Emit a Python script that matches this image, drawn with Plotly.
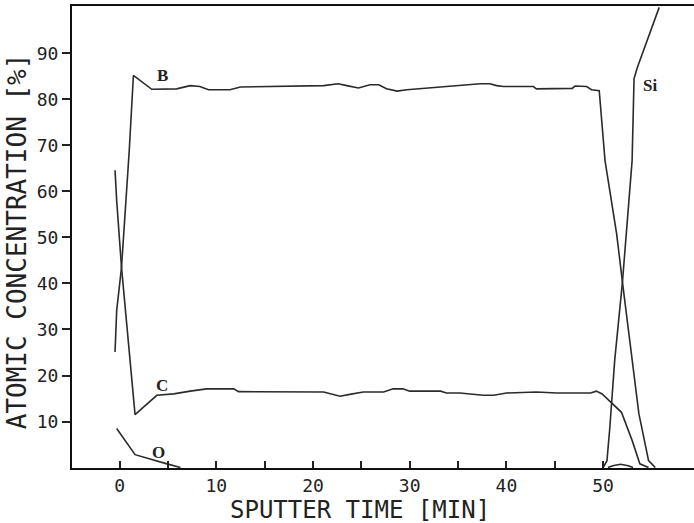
import plotly.graph_objects as go

# ---- data (sputter time [min], atomic concentration [%]) ----
B_time = [-0.47, -0.3, 0.2, 0.57, 1.0, 1.43, 3.33, 5.9, 7.3, 8.3, 9.2, 11.4, 12.5, 21.1, 22.6, 23.5,
          24.7, 25.9, 26.8, 27.6, 28.7, 29.7, 33.5, 37.3, 38.3, 39.0, 39.7, 42.8, 43.1, 46.8, 47.1,
          48.3, 48.8, 49.6, 50.2, 51.4, 52.0, 52.8, 53.7, 54.7, 55.4]
B_conc = [25.1, 34.1, 43.5, 54.4, 68.9, 85.2, 82.2, 82.3, 83.0, 82.8, 82.1, 82.1, 82.7, 83.0, 83.4, 83.0,
          82.5, 83.2, 83.2, 82.3, 81.8, 82.1, 82.8, 83.4, 83.4, 83.0, 82.8, 82.8, 82.3, 82.4, 82.9,
          82.8, 82.1, 81.9, 66.7, 50.8, 40.3, 26.9, 11.7, 1.5, 0.0]

C_time = [-0.47, -0.3, 0.2, 0.74, 1.6, 3.85, 5.6, 7.3, 9.0, 11.8, 12.3, 21.1, 21.8, 22.8, 23.8, 25.2,
          27.3, 28.3, 29.3, 30.0, 33.2, 33.8, 35.2, 37.6, 38.7, 40.0, 43.1, 45.2, 48.7, 49.3, 49.9,
          51.9, 53.0, 53.8, 54.7]
C_conc = [64.6, 58.0, 43.5, 30.5, 11.5, 15.7, 16.0, 16.6, 17.1, 17.1, 16.5, 16.4, 16.0, 15.5, 15.9, 16.4,
          16.4, 17.1, 17.1, 16.6, 16.6, 16.2, 16.2, 15.7, 15.7, 16.2, 16.4, 16.2, 16.2, 16.6, 16.0,
          12.0, 5.9, 0.8, 0.0]

O_time = [-0.3, 1.6, 4.9, 6.3]
O_conc = [8.5, 2.8, 0.8, 0.0]

O_interface_time = [50.5, 51.0, 51.8, 52.6, 53.1]
O_interface_conc = [0.0, 0.4, 0.7, 0.4, 0.0]

Si_time = [50.0, 50.4, 50.7, 51.2, 52.0, 53.0, 53.2, 53.55, 55.8]
Si_conc = [0.0, 1.5, 8.8, 23.3, 40.3, 66.7, 84.5, 87.0, 100.0]

labels = ["B", "C", "O", "Si"]
label_time = [4.4, 4.4, 4.0, 54.9]
label_conc = [85.2, 17.8, 3.3, 83.0]

x_ticks = [0, 5, 10, 15, 20, 25, 30, 35, 40, 45, 50]
x_ticktext = ["0", "", "10", "", "20", "", "30", "", "40", "", "50"]
y_ticks = [10, 20, 30, 40, 50, 60, 70, 80, 90]

LINE = dict(color="#2b2b2b", width=1.6)
MONO = "DejaVu Sans Mono"

fig = go.Figure()
for t, c in [(B_time, B_conc), (C_time, C_conc), (O_time, O_conc),
             (O_interface_time, O_interface_conc), (Si_time, Si_conc)]:
    fig.add_trace(go.Scatter(x=t, y=c, mode="lines", line=LINE, showlegend=False,
                             hoverinfo="x+y"))

for txt, lx, ly in zip(labels, label_time, label_conc):
    fig.add_annotation(x=lx, y=ly, text="<b>%s</b>" % txt, showarrow=False,
                       font=dict(family="Liberation Serif", size=17, color="#222"))

fig.add_annotation(xref="paper", yref="paper", x=0.463, y=-0.0905,
                   xanchor="center", yanchor="middle",
                   text="SPUTTER TIME [MIN]", showarrow=False,
                   font=dict(family=MONO, size=24, color="#222"))
fig.add_annotation(xref="paper", yref="paper", x=-0.089, y=0.49, textangle=-90,
                   xanchor="center", yanchor="middle",
                   text="ATOMIC CONCENTRATION [%]", showarrow=False,
                   font=dict(family=MONO, size=26, color="#222"))

fig.update_layout(
    width=694, height=523,
    margin=dict(l=72, r=0, t=6, b=55),
    paper_bgcolor="white", plot_bgcolor="white",
    xaxis=dict(range=[-4.92, 59.4], tickvals=x_ticks, ticktext=x_ticktext,
               ticks="inside", ticklen=7, tickwidth=1.5, tickcolor="#222",
               showline=True, linecolor="#111", linewidth=2, mirror=True,
               showgrid=False, zeroline=False, ticklabelstandoff=0,
               tickfont=dict(family=MONO, size=18, color="#222")),
    yaxis=dict(range=[-0.1, 100.3], tickvals=y_ticks,
               ticks="outside", ticklen=8, tickwidth=1.5, tickcolor="#222",
               showline=True, linecolor="#111", linewidth=2, mirror=False,
               showgrid=False, zeroline=False,
               tickfont=dict(family=MONO, size=18, color="#222")),
)

fig.write_html("out.html", config={"displayModeBar": False},
               post_script="document.body.style.margin='0';")
